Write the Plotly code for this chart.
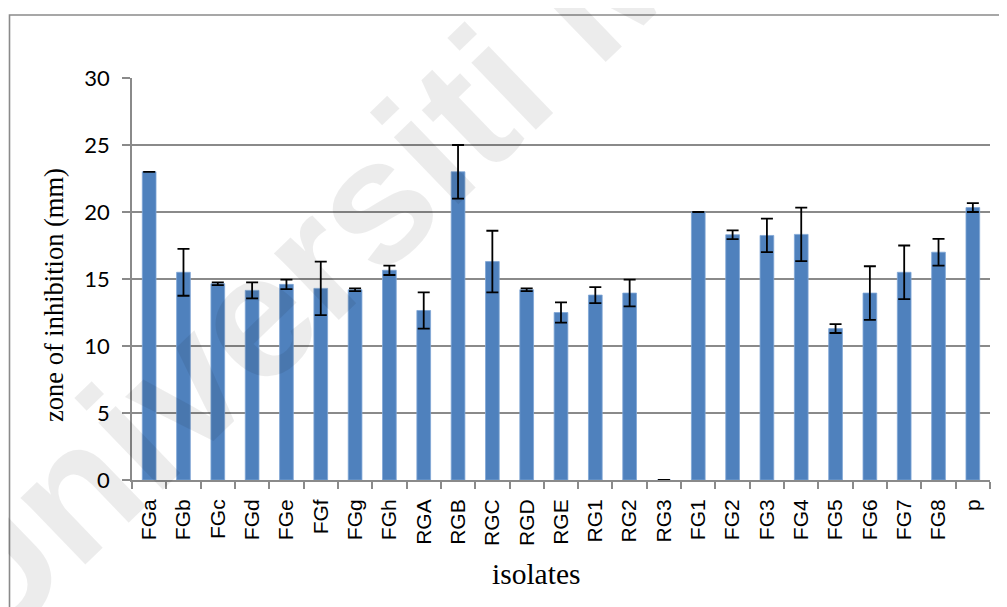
import plotly.graph_objects as go

categories = ["FGa", "FGb", "FGc", "FGd", "FGe", "FGf", "FGg", "FGh", "RGA", "RGB",
              "RGC", "RGD", "RGE", "RG1", "RG2", "RG3", "FG1", "FG2", "FG3", "FG4",
              "FG5", "FG6", "FG7", "FG8", "p"]
values = [23.0, 15.5, 14.65, 14.15, 14.6, 14.3, 14.2, 15.65, 12.65, 23.0,
          16.3, 14.2, 12.5, 13.8, 13.95, 0.0, 20.0, 18.3, 18.25, 18.33,
          11.3, 13.95, 15.5, 17.0, 20.33]
errors = [0.0, 1.75, 0.1, 0.6, 0.35, 2.0, 0.1, 0.35, 1.35, 2.0,
          2.3, 0.1, 0.75, 0.6, 1.0, 0.0, 0.0, 0.33, 1.25, 2.0,
          0.33, 2.0, 2.0, 1.0, 0.33]
y_ticks = [0, 5, 10, 15, 20, 25, 30]

OFF = 8  # page body margin
W, H = 1007 - OFF, 607 - OFF
L, T = 132 - OFF, 78 - OFF
R = W - (990 - OFF)
B = H - (480 - OFF)
pw, ph = W - L - R, H - T - B

def px(x):
    return (x - OFF - L) / pw

def py(y):
    return (H - B - (y - OFF)) / ph

GRID = "#8a8a8a"

fig = go.Figure()
fig.add_trace(go.Bar(
    x=categories, y=values,
    marker=dict(color="#4F81BD", line=dict(color="#7FA6D6", width=0.8)),
    error_y=dict(type="data", array=errors, visible=True, color="black",
                 thickness=1.8, width=6),
))

fig.update_layout(
    width=W, height=H,
    margin=dict(l=L, r=R, t=T, b=B),
    plot_bgcolor="white", paper_bgcolor="white",
    bargap=0.6, showlegend=False,
    xaxis=dict(
        type="category", tickangle=-90, ticks="outside", tickson="boundaries",
        ticklen=7, tickcolor=GRID, tickwidth=1.8, ticklabelstandoff=9,
        showline=True, linecolor=GRID, linewidth=1.8,
        tickfont=dict(family="Liberation Sans, Arial", size=21, color="black"),
        showgrid=False,
    ),
    yaxis=dict(
        range=[0, 30], tickvals=y_ticks, ticks="outside", ticklen=8,
        tickcolor=GRID, tickwidth=1.8, ticklabelstandoff=8,
        showline=True, linecolor=GRID, linewidth=1.8,
        showgrid=True, gridcolor=GRID, gridwidth=1.8,
        zeroline=False,
        tickfont=dict(family="Lato, Open Sans", size=22, color="black"),
    ),
    shapes=[dict(type="rect", xref="paper", yref="paper",
                 x0=px(9.5), x1=px(1030), y0=py(15), y1=py(640),
                 line=dict(color=GRID, width=1.6), layer="below")],
    annotations=[
        dict(text="zone of inhibition (mm)", xref="paper", yref="paper",
             x=px(54), y=py(295), xanchor="center", yanchor="middle",
             textangle=-90, showarrow=False,
             font=dict(family="Liberation Serif, Times New Roman", size=26.5, color="black")),
        dict(text="isolates", xref="paper", yref="paper",
             x=px(536), y=py(574), xanchor="center", yanchor="middle", showarrow=False,
             font=dict(family="Liberation Serif, Times New Roman", size=29.5, color="black")),
        dict(text="<b>Universiti Malaya</b>", xref="paper", yref="paper",
             x=px(460), y=py(118), xanchor="center", yanchor="middle",
             textangle=-44, showarrow=False,
             font=dict(family="Liberation Sans, Arial", size=176, color="rgba(0,0,0,0.075)")),
    ],
)

fig.write_html("out.html")
